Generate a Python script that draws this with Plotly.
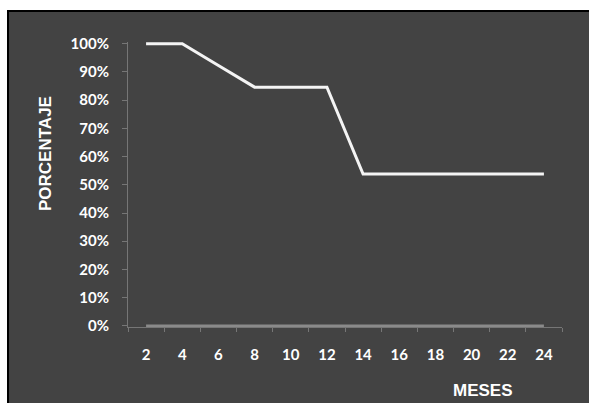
import plotly.graph_objects as go

# Supervivencia acumulada por mes de seguimiento
meses = ["2", "4", "6", "8", "10", "12", "14", "16", "18", "20", "22", "24"]
porcentaje = [1.0, 1.0, 0.923, 0.846, 0.846, 0.846, 0.538, 0.538, 0.538, 0.538, 0.538, 0.538]
base = [0, 0, 0, 0, 0, 0, 0, 0, 0, 0, 0, 0]
y_ticks = [0, 0.1, 0.2, 0.3, 0.4, 0.5, 0.6, 0.7, 0.8, 0.9, 1.0]

W, H = 589, 403
ML, MR, MT, MB = 128, 27, 42, 76
BG = "#434343"
AXIS = "#767676"
TICKFONT = dict(family="Lato, Carlito, Arial", size=15, color="white", weight="bold")
TITLEFONT = dict(family="Liberation Sans, Arial", size=17, color="white", weight="bold")

pw = W - ML - MR
ph = H - MT - MB


def px_x(px):
    return (px - ML) / pw


def px_y(py):
    return (H - MB - py) / ph


fig = go.Figure()
fig.add_trace(go.Scatter(x=meses, y=base, mode="lines",
                         line=dict(color="#8a8a8a", width=2.5), hoverinfo="skip"))
fig.add_trace(go.Scatter(x=meses, y=porcentaje, mode="lines",
                         line=dict(color="#f4f4f4", width=3)))

# dark panel with black frame
fig.add_shape(type="rect", xref="paper", yref="paper", layer="below",
              x0=px_x(8), x1=px_x(W + 20), y0=px_y(H + 20), y1=px_y(11),
              fillcolor=BG, line=dict(color="black", width=2))

fig.add_annotation(text="PORCENTAJE", xref="paper", yref="paper",
                   x=px_x(45), y=px_y(154), textangle=-90, showarrow=False,
                   font=TITLEFONT, xanchor="center", yanchor="middle")
fig.add_annotation(text="MESES", xref="paper", yref="paper",
                   x=px_x(483), y=px_y(390), showarrow=False,
                   font=TITLEFONT, xanchor="center", yanchor="middle")

fig.update_layout(
    width=W, height=H,
    margin=dict(l=ML, r=MR, t=MT, b=MB, pad=0),
    paper_bgcolor="white",
    plot_bgcolor="rgba(0,0,0,0)",
    showlegend=False,
    xaxis=dict(type="category", range=[-0.5, 11.5], showgrid=False, zeroline=False,
               showline=True, linecolor=AXIS, linewidth=1,
               ticks="outside", tickson="boundaries", ticklen=4, tickcolor=AXIS,
               tickfont=TICKFONT, ticklabelstandoff=14),
    yaxis=dict(range=[-0.004, 1.006], tickvals=y_ticks, tickformat=".0%",
               showgrid=False, zeroline=False,
               showline=True, linecolor=AXIS, linewidth=1,
               ticks="outside", ticklen=5, tickcolor=AXIS,
               tickfont=TICKFONT, ticklabelstandoff=10),
)

fig.write_html("out.html")
